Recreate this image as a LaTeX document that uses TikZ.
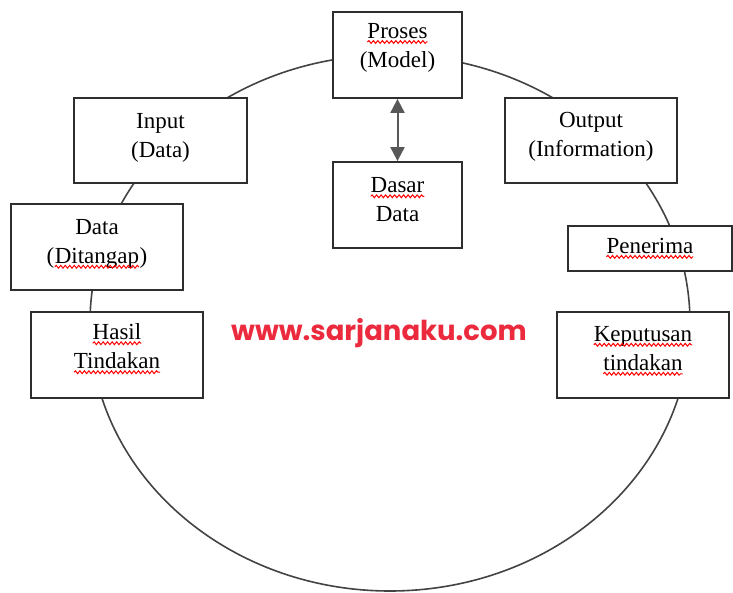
\documentclass[tikz,border=0pt]{standalone}
\usepackage{fontspec}
\setmainfont{Liberation Serif}
\newfontfamily\webfont{Poppins}
\usetikzlibrary{arrows.meta,decorations.pathmorphing}

\definecolor{frame}{HTML}{2E2E2E}
\definecolor{webred}{HTML}{EC2A3E}

% word with a red wavy underline
\newcommand\wavyword[1]{\tikz[baseline=(ww.base)]{%
  \node[inner sep=0pt,outer sep=0pt,draw=none,anchor=base] (ww) {#1};
  \draw[red,line width=1pt,decorate,
        decoration={snake,amplitude=1.4pt,segment length=4.5pt}]
    ([yshift=-3.4pt]ww.base west) -- ([yshift=-3.4pt]ww.base east);}}

\tikzset{
  box/.style={draw=frame,line width=1.8pt,fill=white,inner sep=0pt,
              minimum width=#1},
  box/.default=172pt,
  txt/.style={align=center,inner sep=0pt,
              font=\fontsize{23}{29}\selectfont},
  ring/.style={draw=frame!90,line width=1.6pt},
  link/.style={draw=frame!80,line width=2pt,
               {Triangle[length=14pt,width=14pt]}-{Triangle[length=14pt,width=14pt]}},
}

\begin{document}
\begin{tikzpicture}[x=1pt,y=-1pt]
\useasboundingbox (0,0) rectangle (733,593);

% the cycle
\draw[ring] (390,323) ellipse [x radius=300pt,y radius=268pt];

% boxes
\node[box=129pt,minimum height=86pt] (proses)    at (397.5,55)  {};
\node[box=129pt,minimum height=86pt] (dasar)     at (397.5,205) {};
\node[box=173pt,minimum height=85pt] (input)     at (160.5,140.5) {};
\node[box=172pt,minimum height=85pt] (output)    at (591,140.5) {};
\node[box=172pt,minimum height=86pt] (data)      at (97,247)    {};
\node[box=172pt,minimum height=86pt] (hasil)     at (117,355)   {};
\node[box=164pt,minimum height=45pt] (penerima)  at (650,248.5) {};
\node[box=172pt,minimum height=86pt] (keputusan) at (643,355)   {};

% texts
\node[txt] (tproses)    at ([yshift=7pt]proses)    {\wavyword{Proses}\\(Model)};
\node[txt] (tdasar)     at ([yshift=5pt]dasar)     {\wavyword{Dasar}\\Data};
\node[txt] (tinput)     at ([yshift=3pt]input)     {Input\\(Data)};
\node[txt] (toutput)    at ([yshift=3.5pt]output)  {Output\\(Information)};
\node[txt] (tdata)      at ([yshift=3pt]data)      {Data\\(\wavyword{Ditangap})};
\node[txt] (thasil)     at ([yshift=6pt]hasil)     {\wavyword{Hasil}\\\wavyword{Tindakan}};
\node[txt] (tpenerima)  at ([yshift=0pt]penerima)  {\wavyword{Penerima}};
\node[txt] (tkeputusan) at ([yshift=4pt]keputusan) {\wavyword{Keputusan}\\\wavyword{tindakan}};

% process <-> database
\draw[link] (proses.south) -- (dasar.north);

% web address
\node[inner sep=0pt,text=webred,font=\webfont\bfseries\fontsize{27.5}{27.5}\selectfont]
  (web) at (379,333) {www.sarjanaku.com};
\end{tikzpicture}
\end{document}
